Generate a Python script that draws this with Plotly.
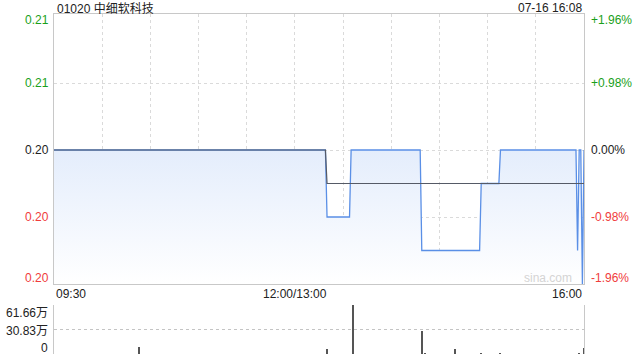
import plotly.graph_objects as go

# ---------------- data ----------------
title_text = "01020 中细软科技"
stamp_text = "07-16 16:08"
prev_close = 0.204

# trading minutes from 09:30 (lunch break removed, 330 = 16:00)
price_time = [0, 169, 170, 184, 185, 228, 229, 265, 266, 277, 278, 325, 326, 327, 328, 329, 330]
price_vals = [0.204, 0.204, 0.202, 0.202, 0.204, 0.204, 0.201, 0.201, 0.203, 0.203,
              0.204, 0.204, 0.201, 0.204, 0.204, 0.200, 0.204]

avg_time = [0, 169, 170, 330]
avg_vals = [0.204, 0.204, 0.203, 0.203]

vol_time = [53, 170, 186, 229, 231, 250, 266, 278, 327, 330]
vol_vals = [88000, 63000, 616600, 289000, 6000, 63000, 5000, 5000, 10000, 75000]

price_ticks = [0.208, 0.206, 0.204, 0.202, 0.200]
price_labels = ["0.21", "0.21", "0.20", "0.20", "0.20"]
pct_labels = ["+1.96%", "+0.98%", "0.00%", "-0.98%", "-1.96%"]
vol_ticks = [616600, 308300, 0]
vol_labels = ["61.66万", "30.83万", "0"]
x_labels = ["09:30", "12:00/13:00", "16:00"]
x_label_pos = [0, 150, 330]

# ---------------- style ----------------
W, H = 640, 360
L, R = 54, 584
PT, PB = 14, 284
VT, VB = 305, 354
FONT = "Liberation Sans, Arial, Noto Sans CJK SC"
GREEN = "#1a9f1a"
RED = "#f03c3c"
DARK = "#222222"
GRID = "#dadada"
FRAME = "#c8c8c8"

y_lo, y_hi = 0.200, 0.200 + (PB - PT) / 33.5 * 0.001


def px(x):
    return x / W


def py(y):
    return 1 - y / H


fig = go.Figure()

fig.add_trace(go.Scatter(
    x=price_time, y=price_vals, mode="lines",
    line=dict(color="#5a8fe6", width=1.3),
    fill="tozeroy",
    fillgradient=dict(type="vertical", start=y_lo, stop=prev_close,
                      colorscale=[[0, "rgba(255,255,255,1)"], [1, "rgba(228,237,252,1)"]]),
    hoverinfo="skip", xaxis="x", yaxis="y",
))
fig.add_trace(go.Scatter(
    x=avg_time, y=avg_vals, mode="lines",
    line=dict(color="#555a66", width=1.2),
    hoverinfo="skip", xaxis="x", yaxis="y",
))
fig.add_trace(go.Bar(
    x=vol_time, y=vol_vals, width=0.7,
    marker=dict(color="#555555", line=dict(width=0)),
    hoverinfo="skip", xaxis="x2", yaxis="y2",
))

annotations = []
tick_colors = [GREEN, GREEN, DARK, RED, RED]
shifts = [-4, 0, 0, 0, 6]
for v, lab, pl, c, s in zip(price_ticks, price_labels, pct_labels, tick_colors, shifts):
    annotations.append(dict(x=px(L - 3), xref="paper", y=v, yref="y", text=lab,
                            xanchor="right", yanchor="middle", showarrow=False,
                            yshift=s, font=dict(color=c, size=12, family=FONT)))
    annotations.append(dict(x=px(R + 5), xref="paper", y=v, yref="y", text=pl,
                            xanchor="left", yanchor="middle", showarrow=False,
                            yshift=s, font=dict(color=c, size=12, family=FONT)))

vshifts = [-8, -1, 6]
for v, lab, s in zip(vol_ticks, vol_labels, vshifts):
    annotations.append(dict(x=px(L - 4), xref="paper", y=v, yref="y2", text=lab,
                            xanchor="right", yanchor="middle", showarrow=False,
                            yshift=s, font=dict(color=DARK, size=12, family=FONT)))

anchors = ["left", "center", "right"]
for xv, lab, a in zip(x_label_pos, x_labels, anchors):
    annotations.append(dict(x=xv, xref="x", y=py(294), yref="paper", text=lab,
                            xanchor=a, yanchor="middle", showarrow=False,
                            font=dict(color=DARK, size=12, family=FONT)))

annotations.append(dict(x=px(L + 1), xref="paper", y=py(8), yref="paper", text=title_text,
                        xanchor="left", yanchor="middle", showarrow=False,
                        font=dict(color=DARK, size=12, family=FONT)))
annotations.append(dict(x=px(R), xref="paper", y=py(8), yref="paper", text=stamp_text,
                        xanchor="right", yanchor="middle", showarrow=False,
                        font=dict(color=DARK, size=12, family=FONT)))
annotations.append(dict(x=px(R - 10), xref="paper", y=py(278), yref="paper", text="sina.com",
                        xanchor="right", yanchor="middle", showarrow=False,
                        font=dict(color="#d4d4d4", size=12, family=FONT)))

fig.update_layout(
    width=W, height=H,
    margin=dict(l=0, r=0, t=0, b=0),
    paper_bgcolor="white", plot_bgcolor="white",
    showlegend=False,
    bargap=0,
    annotations=annotations,
    xaxis=dict(domain=[px(L), px(R)], range=[0, 330], anchor="y",
               tickvals=list(range(30, 330, 30)), showticklabels=False, ticks="",
               showgrid=True, gridcolor=GRID, griddash="dot", gridwidth=1,
               showline=True, mirror=True, linecolor=FRAME, linewidth=1, zeroline=False),
    yaxis=dict(domain=[py(PB), py(PT)], range=[y_lo, y_hi], anchor="x",
               tickvals=[0.202, 0.204, 0.206], showticklabels=False, ticks="",
               showgrid=True, gridcolor=GRID, griddash="dot", gridwidth=1,
               showline=True, mirror=True, linecolor=FRAME, linewidth=1, zeroline=False),
    xaxis2=dict(domain=[px(L), px(R)], range=[0, 330], anchor="y2",
                showticklabels=False, ticks="", showgrid=False, showline=False,
                zeroline=False),
    yaxis2=dict(domain=[py(VB), py(VT)], range=[0, 616600], anchor="x2",
                tickvals=vol_ticks, showticklabels=False, ticks="",
                showgrid=True, gridcolor="#c4c4c4", griddash="dot", gridwidth=1,
                showline=True, mirror=True, linecolor=FRAME, linewidth=1, zeroline=False),
)

fig.write_html("out.html")
